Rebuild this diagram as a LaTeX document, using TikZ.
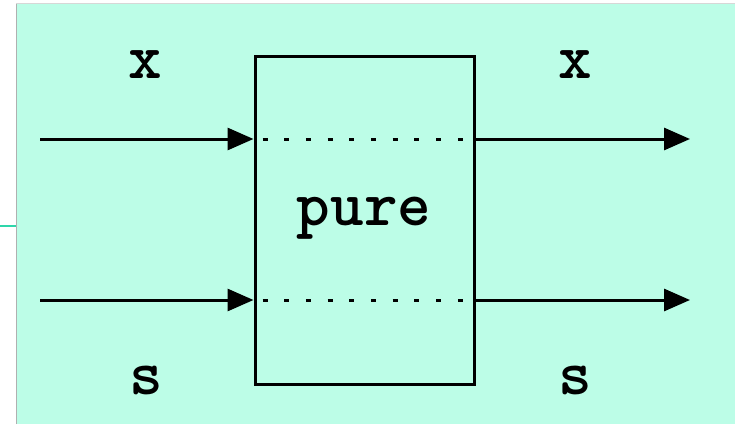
\documentclass[tikz,border=0pt]{standalone}
\usepackage{fontspec}
\usetikzlibrary{arrows.meta}
\definecolor{bgmint}{RGB}{188,253,231}
\definecolor{edgeteal}{RGB}{46,214,170}
\definecolor{edgegray}{RGB}{176,176,176}
\begin{document}
\begin{tikzpicture}[x=1pt,y=1pt,
  lbl/.style={font=\fontsize{64}{66}\selectfont\ttfamily\bfseries, inner sep=0pt, anchor=base},
  flow/.style={line width=3pt, -{Triangle[length=26pt,width=22pt]}},
  dots/.style={line width=3pt, dash pattern=on 5pt off 16.7pt, dash phase=12.7pt}]
\useasboundingbox (0,0) rectangle (735,424);
\fill[bgmint] (16,0) rectangle (735,421);
\draw[edgegray, line width=1pt] (16.5,0) -- (16.5,421);
\draw[edgegray!50, line width=0.6pt] (16,421) -- (735,421);
\draw[edgeteal, line width=2pt] (0,198) -- (16,198);
\node[draw, line width=3pt, minimum width=219pt, minimum height=327pt, inner sep=0pt] (box) at (364.5,203.5) {};
\node[lbl] (pure) at (364,199) {pure};
\coordinate (inx) at (40,285);
\coordinate (ins) at (40,124);
\coordinate (outx) at (690,285);
\coordinate (outs) at (690,124);
\draw[flow] (inx) -- (box.west |- inx);
\draw[flow] (ins) -- (box.west |- ins);
\draw[flow] (box.east |- outx) -- (outx);
\draw[flow] (box.east |- outs) -- (outs);
\draw[dots] (box.west |- inx) -- (box.east |- inx);
\draw[dots] (box.west |- ins) -- (box.east |- ins);
\node[lbl] (xl) at (145,345) {x};
\node[lbl] (xr) at (575,345) {x};
\node[lbl] (sl) at (146,30) {s};
\node[lbl] (sr) at (575,30) {s};
\end{tikzpicture}
\end{document}
